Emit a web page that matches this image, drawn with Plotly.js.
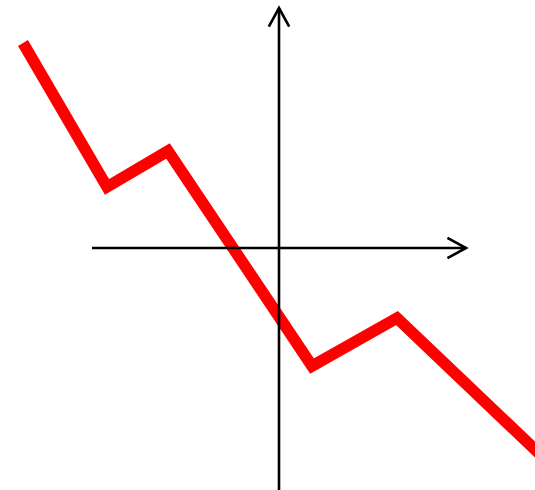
<!DOCTYPE html>
<html>
<head>
<meta charset="utf-8">
<script src="https://cdn.plot.ly/plotly-3.0.1.min.js"></script>
<style>
  html, body { margin: 0; padding: 0; background: #fff; }
  #chart { width: 535px; height: 490px; }
</style>
</head>
<body>
<div id="chart"></div>
<script>
// Piecewise-linear curve (vertices of the red polyline)
const xVals = [-4.267, -2.867, -1.85, 0.55, 1.967, 4.433];
const yVals = [3.417, 1.017, 1.617, -1.967, -1.167, -3.517];

// Coordinate axes drawn as arrows through the origin
const xAxisSpan = [-3.117, 3.117];
const yAxisSpan = [-4.2, 4.0];

// Visible window (units)
const xRange = [-4.65, 4.2667];
const yRange = [-4.0333, 4.1333];

const arrowBack = 0.31;   // arrowhead arm length along the axis
const arrowSide = 0.17;   // arrowhead arm half-width

const axisLine = { color: '#000', width: 2.6 };

const shapes = [
  { type: 'line', xref: 'x', yref: 'y', x0: xAxisSpan[0], y0: 0, x1: xAxisSpan[1], y1: 0, line: axisLine },
  { type: 'line', xref: 'x', yref: 'y', x0: 0, y0: yAxisSpan[0], x1: 0, y1: yAxisSpan[1], line: axisLine },
  { type: 'path', xref: 'x', yref: 'y', line: axisLine,
    path: `M ${xAxisSpan[1] - arrowBack} ${arrowSide} L ${xAxisSpan[1]} 0 L ${xAxisSpan[1] - arrowBack} ${-arrowSide}` },
  { type: 'path', xref: 'x', yref: 'y', line: axisLine,
    path: `M ${-arrowSide} ${yAxisSpan[1] - arrowBack} L 0 ${yAxisSpan[1]} L ${arrowSide} ${yAxisSpan[1] - arrowBack}` }
];

const trace = {
  x: xVals, y: yVals,
  type: 'scatter', mode: 'lines',
  line: { color: '#ff0000', width: 11.5 },
  hoverinfo: 'skip'
};

const layout = {
  width: 535, height: 490,
  margin: { l: 0, r: 0, t: 0, b: 0 },
  paper_bgcolor: '#fff', plot_bgcolor: '#fff',
  showlegend: false,
  xaxis: { range: xRange, visible: false, fixedrange: true },
  yaxis: { range: yRange, visible: false, fixedrange: true },
  shapes: shapes
};

Plotly.newPlot('chart', [trace], layout, { displayModeBar: false, staticPlot: true }).then(gd => {
  // sharp corners and flat ends on the polyline
  gd.querySelectorAll('.scatterlayer .js-line').forEach(p => {
    p.style.strokeLinejoin = 'miter';
    p.style.strokeLinecap = 'butt';
  });
});
</script>
</body>
</html>
